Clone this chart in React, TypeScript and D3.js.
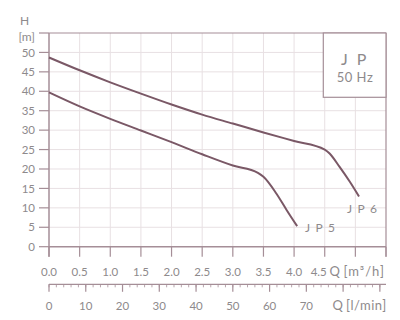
import React from "react";
import * as d3 from "d3";

// Flow Q [m³/h] and head H [m]
const jp6Q = [0, 0.5, 1.0, 1.5, 2.0, 2.5, 3.0, 3.5, 4.0, 4.5, 4.58, 4.74, 4.91, 5.06];
const jp6H = [48.7, 45.4, 42.3, 39.4, 36.6, 34.0, 31.7, 29.4, 27.2, 25.0, 24.0, 20.6, 16.7, 12.9];
const jp5Q = [0, 0.5, 1.0, 1.5, 2.0, 2.5, 3.0, 3.41, 3.5, 3.71, 3.88, 4.05];
const jp5H = [39.7, 36.1, 32.9, 29.9, 26.9, 23.8, 20.9, 19.0, 18.0, 13.7, 9.4, 5.3];

const qTicks = [0, 0.5, 1, 1.5, 2, 2.5, 3, 3.5, 4, 4.5, 5, 5.5];
const qLabels = ["0.0", "0.5", "1.0", "1.5", "2.0", "2.5", "3.0", "3.5", "4.0", "4.5"];
const hTicks = [0, 5, 10, 15, 20, 25, 30, 35, 40, 45, 50, 55];
const hLabels = ["0", "5", "10", "15", "20", "25", "30", "35", "40", "45", "50"];
const lTicks = [0, 10, 20, 30, 40, 50, 60, 70, 80, 90];
const lLabels = ["0", "10", "20", "30", "40", "50", "60", "70"];
const lMinor = d3.range(0, 92, 2);

const seriesNames = ["J P 6", "J P 5"];
const title = "J P";
const subtitle = "50 Hz";

const W = 400, H = 320;
const x = d3.scaleLinear().domain([0, 5.5]).range([49, 386]);
const xl = d3.scaleLinear().domain([0, (5.5 * 1000) / 60]).range([49, 386]);
const y = d3.scaleLinear().domain([0, 55]).range([246.7, 33]);

const curveCol = "#7a5866";
const axisCol = "#a58e97";
const gridCol = "#e8e0e3";
const textCol = "#8e8a8c";
const font = "Lato, 'Open Sans', sans-serif";
const fs = 11.5;

const line = d3
  .line<[number, number]>()
  .x((d) => x(d[0]))
  .y((d) => y(d[1]))
  .curve(d3.curveMonotoneX);

export default function App() {
  const jp6 = jp6Q.map((q, i) => [q, jp6H[i]] as [number, number]);
  const jp5 = jp5Q.map((q, i) => [q, jp5H[i]] as [number, number]);
  const axisY = y(0);
  const axis2Y = 284.3;
  return (
    <svg
      width={W}
      height={H}
      style={{ position: "absolute", left: 0, top: 0, background: "#fff" }}
      fontFamily={font}
    >
      {/* grid */}
      {qTicks.slice(1, -1).map((q) => (
        <line key={"gv" + q} x1={x(q)} x2={x(q)} y1={y(55)} y2={axisY} stroke={gridCol} strokeWidth={1} />
      ))}
      {hTicks.slice(1, -1).map((h) => (
        <line key={"gh" + h} x1={x(0)} x2={x(5.5)} y1={y(h)} y2={y(h)} stroke={gridCol} strokeWidth={1} />
      ))}
      {/* frame */}
      <line x1={x(0)} x2={x(5.5)} y1={y(55)} y2={y(55)} stroke={axisCol} strokeWidth={1.2} />
      <line x1={x(5.5)} x2={x(5.5)} y1={y(55)} y2={axisY + 10} stroke={axisCol} strokeWidth={1.2} />
      <line x1={x(0)} x2={x(0)} y1={y(55)} y2={axisY + 10} stroke={axisCol} strokeWidth={1.5} />
      <line x1={x(0)} x2={x(5.5)} y1={axisY} y2={axisY} stroke={axisCol} strokeWidth={1.5} />
      {/* y ticks */}
      {hTicks.map((h) => (
        <line key={"yt" + h} x1={39} x2={x(0)} y1={y(h)} y2={y(h)} stroke={axisCol} strokeWidth={1.2} />
      ))}
      {hLabels.map((l, i) => (
        <text key={"yl" + l} x={35} y={y(hTicks[i])} dy="0.36em" textAnchor="end" fontSize={fs} fill={textCol}>
          {l}
        </text>
      ))}
      <text x={35} y={y(55) + 8} textAnchor="end" fontSize={12} fill={textCol}>[m]</text>
      <text x={24.5} y={25} textAnchor="middle" fontSize={12} fill={textCol}>H</text>
      {/* x ticks Q m3/h */}
      {qTicks.map((q) => (
        <line key={"xt" + q} x1={x(q)} x2={x(q)} y1={axisY} y2={axisY + 10} stroke={axisCol} strokeWidth={1.2} />
      ))}
      {qLabels.map((l, i) => (
        <text
          key={"xl" + l}
          x={x(qTicks[i]) + (i === qLabels.length - 1 ? -6 : 0)}
          y={275.5}
          textAnchor="middle"
          fontSize={fs}
          fill={textCol}
        >
          {l}
        </text>
      ))}
      <text x={329.5} y={275.5} fontSize={13} fill={textCol}>Q</text>
      <text x={343.5} y={275.5} fontSize={13} letterSpacing={1} fill={textCol}>
        [m³/h]
      </text>
      {/* second axis l/min */}
      <line x1={xl(0)} x2={x(5.5)} y1={axis2Y} y2={axis2Y} stroke={axisCol} strokeWidth={1.2} />
      {lMinor.map((v) => (
        <line key={"lm" + v} x1={xl(v)} x2={xl(v)} y1={axis2Y} y2={axis2Y + 3} stroke={axisCol} strokeWidth={0.8} />
      ))}
      {lTicks.map((v) => (
        <line key={"lt" + v} x1={xl(v)} x2={xl(v)} y1={axis2Y} y2={axis2Y + 7.5} stroke={axisCol} strokeWidth={1.2} />
      ))}
      {lLabels.map((l, i) => (
        <text key={"ll" + l} x={xl(lTicks[i])} y={309.5} textAnchor="middle" fontSize={fs} fill={textCol}>
          {l}
        </text>
      ))}
      <text x={332.5} y={309.5} fontSize={13} fill={textCol}>Q</text>
      <text x={346} y={309.5} fontSize={13} letterSpacing={0.5} fill={textCol}>
        [l/min]
      </text>
      {/* curves */}
      <path d={line(jp6) || ""} fill="none" stroke={curveCol} strokeWidth={2} />
      <path d={line(jp5) || ""} fill="none" stroke={curveCol} strokeWidth={2} />
      <text x={347} y={213} fontSize={12} letterSpacing={1.2} fill={textCol}>{seriesNames[0]}</text>
      <text x={305} y={232} fontSize={12} letterSpacing={1.2} fill={textCol}>{seriesNames[1]}</text>
      {/* legend box */}
      <rect x={323.3} y={y(55)} width={x(5.5) - 323.3} height={64.3} fill="#fff" stroke={axisCol} strokeWidth={1.2} />
      <text x={355} y={65} textAnchor="middle" fontSize={16} letterSpacing={2.5} fill={textCol}>{title}</text>
      <text x={355} y={81.5} textAnchor="middle" fontSize={13} letterSpacing={0.5} fill={textCol}>{subtitle}</text>
    </svg>
  );
}
